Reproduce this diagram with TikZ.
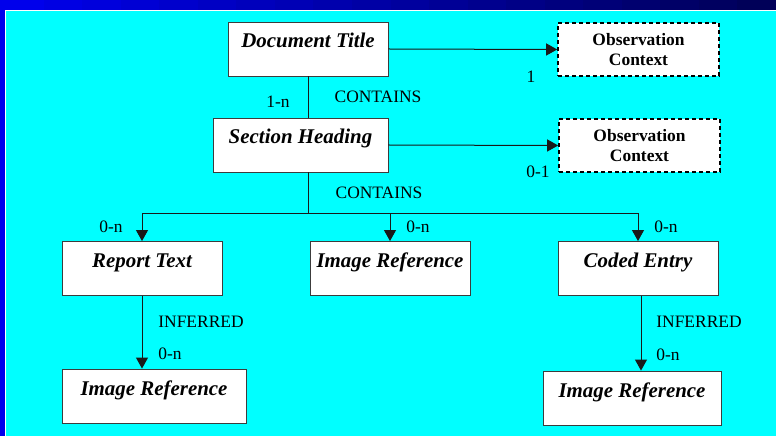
\documentclass[tikz,border=0pt]{standalone}
\usepackage{fontspec}
\setmainfont{Liberation Serif}
\usetikzlibrary{calc, arrows.meta, positioning}

\definecolor{bgcyan}{RGB}{0,255,255}
\definecolor{bandblue}{RGB}{0,0,235}
\definecolor{banddark}{RGB}{0,0,80}
\definecolor{boxline}{RGB}{60,60,60}

\tikzset{
  entity/.style={draw=boxline, fill=white, line width=0.9bp, inner sep=0pt,
    minimum height=54bp, text height=26bp, text depth=28bp,
    font=\fontsize{21}{24}\selectfont\bfseries\itshape},
  context/.style={draw=black, fill=white, line width=1.6bp, dash pattern=on 4bp off 3bp,
    inner sep=0pt, minimum width=161bp, minimum height=53bp, align=center,
    font=\fontsize{17.5}{20}\selectfont\bfseries},
  tag/.style={font=\fontsize{17.5}{20}\selectfont, inner sep=0pt},
  link/.style={line width=1bp, draw=black!90},
  arrowlink/.style={link, -{Triangle[length=11bp,width=12bp]}}
}

\begin{document}
\begin{tikzpicture}[x=1bp, y=-1bp]
    \useasboundingbox (0,0) rectangle (776,436);

    % Background
    \fill[bgcyan] (-5,-5) rectangle (781,441);
    \fill[bandblue] (-5,-5) rectangle (5,441);
    \foreach \i in {0,...,19} {
        \pgfmathsetmacro{\shadepct}{100-5*\i}
        \fill[bandblue!\shadepct!banddark] ({5+38.55*\i},-5) rectangle ({5+38.55*(\i+1)+0.5},10);
    }
    \draw[white, line width=1bp] (5.5,441) -- (5.5,10.5) -- (781,10.5);

    % Boxes
    \node[entity, minimum width=160bp] (doc) at (308,49) {Document Title};
    \node[entity, minimum width=175bp] (sec) at (300.5,145) {Section Heading};
    \node[context] (obsa) at (638.5,49.5) {Observation\\Context};
    \node[context] (obsb) at (639.5,145.5) {Observation\\Context};
    \node[entity, minimum width=160bp] (report) at (142,268.5) {Report Text};
    \node[entity, minimum width=160bp] (imgmid) at (390,268.5) {Image Reference};
    \node[entity, minimum width=160bp] (coded) at (638,268.5) {Coded Entry};
    \node[entity, minimum width=184bp] (imgleft) at (154,396) {Image Reference};
    \node[entity, minimum width=178bp] (imgright) at (632,398) {Image Reference};

    % Connectors
    \coordinate (split) at (308,214);
    \draw[link] (doc.south) -- (doc.south |- sec.north);
    \draw[arrowlink] (doc.east) -- (obsa.west);
    \draw[arrowlink] (sec.east) -- (obsb.west);
    \draw[link] (split |- sec.south) -- (split);
    \draw[arrowlink] (split) -| (report.north);
    \draw[arrowlink] (split) -| (imgmid.north);
    \draw[arrowlink] (split) -| (coded.north);
    \draw[arrowlink] (report.south) -- (report.south |- imgleft.north);
    \draw[arrowlink] ([xshift=3bp]coded.south) -- ([xshift=3bp]coded.south |- imgright.north);

    % Labels
    \node[tag] (onen) at (278,102) {1-n};
    \node[tag] (contains) at (378,97) {CONTAINS};
    \node[tag] (one) at (531,77) {1};
    \node[tag] (zeroone) at (538,172) {0-1};
    \node[tag] (containsb) at (379,193) {CONTAINS};
    \node[tag] (zna) at (111,227) {0-n};
    \node[tag] (znb) at (418,227) {0-n};
    \node[tag] (znc) at (666,227) {0-n};
    \node[tag] (infa) at (201,322) {INFERRED};
    \node[tag] (infb) at (699,322) {INFERRED};
    \node[tag] (znd) at (170,354) {0-n};
    \node[tag] (zne) at (668,355) {0-n};
\end{tikzpicture}
\end{document}
